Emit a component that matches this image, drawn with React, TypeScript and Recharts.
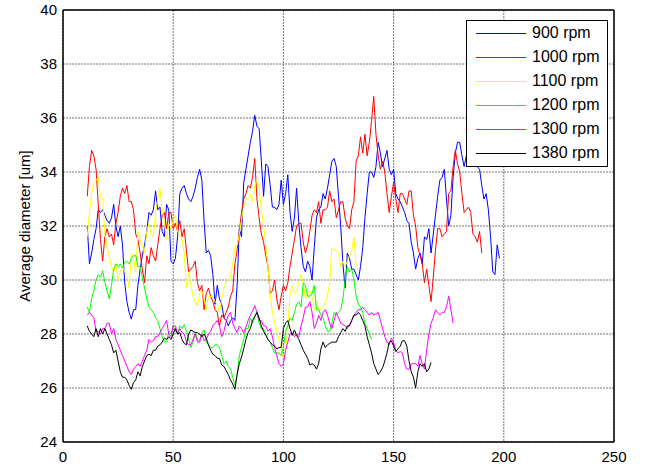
import { LineChart, Line, XAxis, YAxis, CartesianGrid } from "recharts";

// every run is sampled once per unit of x, starting here
const START_X = 11;

const X_TICKS = [0, 50, 100, 150, 200, 250];
const Y_TICKS = [24, 26, 28, 30, 32, 34, 36, 38, 40];
const Y_TITLE = "Average diameter [um]";

const rpm900 = [
  32.0, 30.6, 31.0, 31.5, 31.9, 32.6, 32.5, 32.6, 32.4, 32.2,
  32.1, 32.3, 32.8, 32.0, 31.6, 32.0, 31.3, 29.9, 29.2, 28.8,
  28.55, 28.9, 28.9, 29.8, 30.4, 30.9, 31.3, 31.8, 32.5, 32.4,
  32.6, 33.3, 32.6, 32.7, 31.8, 31.6, 32.8, 32.6, 30.7, 30.6,
  30.8, 31.6, 33.2, 33.4, 33.5, 33.2, 33.0, 32.9, 33.1, 33.4,
  33.8, 34.1, 33.7, 32.2, 31.0, 31.1, 30.9, 30.2, 29.1, 29.8,
  29.3, 29.1, 28.6, 28.5, 28.3, 28.5, 28.6, 28.5, 29.8, 31.9,
  31.6, 33.6, 34.1, 34.6, 35.1, 35.5, 36.1, 35.7, 35.6, 34.4,
  33.1, 34.3, 34.2, 33.5, 32.7, 32.7, 32.6, 32.8, 33.7, 32.8,
  33.2, 33.9, 32.5, 31.8, 32.3, 33.4, 32.1, 31.2, 30.5, 30.3,
  30.7, 30.5, 30.0, 31.2, 32.3, 32.6, 32.7, 33.2, 33.0, 33.4,
  33.9, 34.4, 34.5, 34.2, 33.1, 32.0, 30.6, 29.7, 31.0, 30.8,
  30.4, 30.4, 30.2, 30.0, 30.5, 31.2, 32.3, 33.2, 34.0, 34.0,
  33.8, 34.2, 35.1, 34.7, 34.2, 34.5, 34.8, 34.1, 33.9, 34.1,
  33.2, 33.0, 32.9, 32.7, 32.5, 32.2, 32.1, 31.4, 31.0, 30.4,
  30.8, 31.0, 30.6, 31.6, 31.5, 31.9, 31.0, 31.7, 32.4, 33.1,
  33.7, 33.8, 34.1, 33.0, 32.0, 32.4, 33.8, 34.7, 35.1, 35.1,
  34.6, 34.2, 34.6, 34.4, 34.5, 34.6, 34.2, 34.2, 34.1, 33.5,
  33.0, 33.2, 32.6, 31.6, 30.3, 30.2, 31.3, 30.8,
];

const rpm1000 = [
  33.1, 34.2, 34.8, 34.6, 34.1, 32.8, 31.5, 30.7, 31.6, 31.9,
  31.6, 31.7, 31.3, 32.1, 32.5, 33.1, 33.4, 33.2, 33.5, 32.9,
  32.9, 32.6, 31.7, 31.5, 31.0, 30.4, 29.9, 30.9, 30.6, 31.2,
  30.9, 30.7, 31.3, 31.9, 32.4, 32.5, 31.9, 32.5, 32.5, 31.9,
  32.1, 31.8, 32.2, 31.6, 31.9, 31.1, 30.3, 30.4, 30.5, 30.7,
  29.9, 29.6, 29.8, 28.9, 29.5, 29.7, 29.4, 29.2, 28.9, 28.8,
  28.3, 28.7, 28.6, 28.8, 29.0, 29.4, 29.6, 30.6, 31.1, 31.8,
  32.5, 33.0, 33.2, 33.5, 33.4, 33.8, 34.5, 33.0, 32.3, 31.7,
  31.4, 30.9, 30.5, 29.5, 29.6, 30.0, 29.3, 28.9, 29.4, 29.8,
  29.6, 29.9, 30.5, 31.0, 31.5, 32.0, 32.1, 32.1, 31.4, 31.0,
  31.3, 31.8, 32.4, 32.6, 32.5, 32.9, 32.1, 32.6, 32.6, 32.7,
  33.3, 32.9, 33.0, 32.3, 32.6, 32.9, 32.9, 32.3, 32.0, 31.9,
  32.6, 32.9, 34.4, 34.6, 35.3, 34.7, 35.4, 34.6, 35.1, 35.9,
  36.8, 35.4, 34.6, 34.1, 34.4, 34.0, 33.2, 32.5, 33.1, 33.6,
  33.0, 32.5, 33.2, 33.2, 33.0, 32.8, 33.3, 33.3, 32.4, 32.0,
  31.2, 30.9, 30.6, 29.9, 30.4, 29.8, 29.2, 30.1, 31.1, 31.9,
  31.9, 31.6, 31.7, 31.8, 33.2, 33.3, 34.2, 34.8, 34.3, 34.0,
  33.2, 32.5, 32.6, 32.7, 32.5, 31.7, 31.6, 31.4, 31.8, 31.0,
];

const rpm1100 = [
  31.6, 32.5, 33.2, 33.6, 33.7, 33.8, 33.1, 33.0, 31.7, 31.2,
  30.9, 30.5, 30.3, 30.6, 30.0, 30.3, 30.5, 30.3, 30.2, 29.7,
  31.0, 30.8, 30.3, 31.8, 31.5, 31.3, 31.0, 31.8, 32.1, 31.7,
  31.6, 32.5, 33.0, 33.4, 32.6, 32.2, 31.5, 32.1, 31.9, 32.2,
  32.4, 31.8, 31.7, 31.5, 31.0, 29.7, 30.3, 29.8, 29.4, 29.2,
  29.05, 29.5, 29.6, 29.3, 28.9, 29.4, 29.4, 29.4, 29.2, 29.1,
  28.8, 29.3, 29.7, 29.9, 30.0, 30.1, 30.6, 31.2, 31.3, 31.7,
  32.2, 32.75, 33.0, 33.0, 33.2, 32.9, 33.5, 33.7, 33.4, 32.6,
  32.0, 31.3, 30.5, 29.5, 28.8, 28.4, 28.1, 27.8, 27.4, 27.1,
  27.3, 28.2, 29.5, 29.8, 29.5, 29.6, 29.9, 30.2, 29.9, 29.3,
  29.5, 29.6, 29.4, 28.9, 29.2, 28.9, 28.9, 29.0, 29.2, 29.4,
  29.9, 31.2, 31.1, 31.1, 31.0, 30.5, 30.7, 30.5, 30.7, 30.9,
  31.1, 31.6, 30.5,
];

const rpm1200 = [
  29.0, 28.8, 29.3, 29.6, 30.0, 30.2, 30.1, 30.35, 29.9, 29.6,
  29.3, 29.8, 30.4, 30.6, 30.5, 30.6, 30.45, 30.65, 30.7, 30.6,
  30.8, 30.9, 30.9, 30.5, 30.5, 30.1, 29.7, 29.3, 29.0, 28.9,
  28.8, 28.6, 28.5, 28.2, 27.9, 27.7, 27.7, 28.1, 28.0, 28.3,
  28.1, 28.0, 28.3, 28.2, 28.35, 28.1, 27.8, 27.5, 27.7, 28.05,
  27.8, 27.75, 28.05, 28.15, 27.7, 27.6, 27.5, 27.5, 27.6, 27.6,
  27.5, 27.2, 26.9, 27.0, 26.8, 26.7, 26.4, 26.1, 26.5, 27.2,
  27.5, 27.8, 28.2, 28.2, 28.6, 28.4, 28.6, 28.8, 28.4, 28.2,
  28.2, 28.0, 27.8, 27.7, 27.5, 27.3, 27.3, 27.3, 27.2, 27.5,
  28.1, 28.3, 28.6, 28.5, 28.8, 29.1, 29.2, 29.0, 29.9, 29.8,
  29.4, 29.4, 29.5, 29.8, 28.9, 28.9, 28.7, 28.6, 28.3, 28.1,
  28.1, 28.4, 28.8, 28.7, 28.8, 28.9, 29.3, 30.0, 30.5, 30.3,
  30.4, 30.0, 29.4, 29.1, 29.0, 28.8, 28.4, 28.2, 28.0, 27.8,
];

const rpm1300 = [
  28.7, 28.8, 28.7, 28.6, 28.1, 28.1, 28.0, 28.2, 28.2, 28.4,
  28.4, 28.0, 28.2, 27.8, 27.6, 27.4, 27.2, 27.0, 26.8, 26.6,
  26.5, 26.7, 26.8, 26.9, 26.8, 27.0, 27.2, 27.4, 27.8, 27.7,
  27.75, 27.9, 27.9, 28.05, 28.2, 28.35, 28.5, 28.0, 27.9, 28.3,
  28.3, 28.0, 28.2, 28.05, 28.0, 27.7, 27.6, 27.6, 27.8, 28.0,
  27.7, 27.7, 28.0, 27.75, 27.8, 28.0, 28.1, 28.3, 28.4, 28.5,
  28.3, 27.9, 28.1, 28.45, 28.7, 28.8, 28.4, 28.2, 28.05, 28.3,
  28.2, 28.05, 28.25, 28.5, 28.7, 28.85, 29.05, 28.8, 28.5, 28.5,
  28.3, 28.3, 28.1, 28.2, 27.9, 27.5, 27.2, 26.9, 26.8, 26.9,
  27.4, 27.7, 28.0, 28.05, 27.9, 28.0, 27.9, 28.3, 28.6, 29.0,
  29.0, 29.2, 28.8, 28.2, 28.4, 28.7, 28.5, 28.8, 28.9, 28.7,
  28.4, 28.2, 28.5, 28.8, 28.6, 28.4, 28.35, 28.3, 28.2, 28.35,
  28.5, 28.7, 28.8, 28.9, 28.9, 29.0, 28.9, 28.8, 28.7, 28.8,
  28.7, 28.75, 28.8, 28.5, 28.2, 27.9, 27.7, 27.6, 27.85, 27.7,
  27.4, 27.3, 27.35, 27.3, 26.9, 26.7, 26.7, 26.9, 26.9, 26.9,
  26.8, 27.2, 26.9, 26.7, 27.4, 28.0, 28.4, 28.6, 28.9, 28.8,
  28.7, 28.8, 28.8, 29.0, 29.4, 28.9, 28.4,
];

const rpm1380 = [
  28.3, 28.1, 28.0, 27.9, 28.2, 27.9, 28.2, 28.0, 28.2, 28.0,
  27.8, 27.6, 27.3, 27.4, 27.0, 26.6, 26.4, 26.4, 26.3, 26.1,
  25.95, 26.2, 26.3, 26.6, 26.45, 26.8, 27.0, 27.2, 27.25, 27.2,
  27.4, 27.4, 27.55, 27.6, 27.7, 27.85, 27.8, 27.9, 27.8, 28.0,
  28.2, 28.0, 28.05, 27.8, 27.65, 27.6, 28.0, 28.15, 28.1, 28.05,
  28.05, 28.0, 27.9, 28.0, 27.85, 27.6, 27.4, 27.25, 27.2, 27.1,
  27.1, 26.85, 26.8, 26.65, 26.5, 26.3, 26.15, 25.95, 26.5, 26.9,
  27.15, 27.45, 27.8, 28.05, 28.2, 28.5, 28.65, 28.8, 28.6, 28.3,
  28.1, 27.95, 27.8, 27.7, 27.6, 27.55, 27.45, 27.5, 27.5, 28.2,
  28.4, 28.5, 28.2, 27.95, 28.15, 27.95, 27.8, 27.6, 27.4, 27.25,
  27.1, 26.85, 26.9, 26.85, 26.7, 26.9, 27.45, 27.7, 27.5, 27.6,
  27.65, 27.7, 27.7, 27.7, 27.9, 28.05, 28.2, 28.1, 28.3, 28.3,
  28.5, 28.7, 28.7, 28.8, 28.7, 28.5, 28.3, 27.9, 27.6, 27.3,
  26.9, 26.7, 26.5, 26.6, 26.75, 27.0, 27.3, 27.7, 27.75, 27.55,
  27.35, 27.45, 27.55, 27.75, 27.75, 27.55, 27.0, 26.6, 26.4, 26.0,
  26.6, 26.9, 26.8, 26.9, 26.6, 26.7, 26.95,
];

// plotted in this order, so the last run sits on top
const SERIES = [
  { key: "rpm900", name: "900 rpm", color: "#0000FF", values: rpm900 },
  { key: "rpm1000", name: "1000 rpm", color: "#FF0000", values: rpm1000 },
  { key: "rpm1100", name: "1100 rpm", color: "#FFFF00", values: rpm1100 },
  { key: "rpm1200", name: "1200 rpm", color: "#00FF00", values: rpm1200 },
  { key: "rpm1300", name: "1300 rpm", color: "#FF00FF", values: rpm1300 },
  { key: "rpm1380", name: "1380 rpm", color: "#000000", values: rpm1380 },
];

const maxLen = Math.max(...SERIES.map((s) => s.values.length));
const rows = Array.from({ length: maxLen }, (_, i) => {
  const row: Record<string, number> = { x: START_X + i };
  SERIES.forEach((s) => {
    if (i < s.values.length) row[s.key] = s.values[i];
  });
  return row;
});

const FONT = '"Liberation Sans", Arial, sans-serif';
const boxLine = { stroke: "#000", strokeWidth: 1.5 };

const YTitle = () => (
  <text
    x={24}
    y={226}
    transform="rotate(-90 24 226)"
    textAnchor="middle"
    dominantBaseline="central"
    fontSize={15}
    fontFamily={FONT}
    fill="#000"
  >
    {Y_TITLE}
  </text>
);

const App = () => {
  return (
    <div
      style={{
        position: "absolute",
        left: 0,
        top: 0,
        width: 645,
        height: 468,
        background: "#fff",
        fontFamily: FONT,
      }}
    >
      <LineChart
        width={645}
        height={468}
        data={rows}
        margin={{ top: 10, right: 31, bottom: 0, left: 0 }}
      >
        <CartesianGrid stroke="#767676" strokeDasharray="2 1" />

        {/* labelled axes */}
        <XAxis
          dataKey="x"
          type="number"
          domain={[0, 250]}
          ticks={X_TICKS}
          interval={0}
          height={26}
          tickLine={false}
          tickSize={0}
          tickMargin={9}
          axisLine={boxLine}
          tick={{ fill: "#000", fontSize: 15, fontFamily: FONT }}
        />
        <YAxis
          type="number"
          domain={[24, 40]}
          ticks={Y_TICKS}
          interval={0}
          width={63}
          tickLine={false}
          tickSize={0}
          tickMargin={6}
          axisLine={boxLine}
          tick={{ fill: "#000", fontSize: 15, fontFamily: FONT }}
          label={<YTitle />}
        />

        {/* box edges with inward tick marks */}
        <XAxis
          xAxisId="bottomTicks"
          dataKey="x"
          type="number"
          domain={[0, 250]}
          ticks={X_TICKS}
          interval={0}
          mirror
          tick={false}
          tickSize={5}
          axisLine={false}
          tickLine={{ stroke: "#000" }}
        />
        <XAxis
          xAxisId="top"
          orientation="top"
          dataKey="x"
          type="number"
          domain={[0, 250]}
          ticks={X_TICKS}
          interval={0}
          mirror
          tick={false}
          tickSize={5}
          axisLine={boxLine}
          tickLine={{ stroke: "#000" }}
        />
        <YAxis
          yAxisId="leftTicks"
          type="number"
          domain={[24, 40]}
          ticks={Y_TICKS}
          interval={0}
          mirror
          tick={false}
          tickSize={5}
          axisLine={false}
          tickLine={{ stroke: "#000" }}
        />
        <YAxis
          yAxisId="right"
          orientation="right"
          type="number"
          domain={[24, 40]}
          ticks={Y_TICKS}
          interval={0}
          mirror
          tick={false}
          tickSize={5}
          axisLine={boxLine}
          tickLine={{ stroke: "#000" }}
        />

        {SERIES.map((s) => (
          <Line
            key={s.key}
            dataKey={s.key}
            name={s.name}
            type="linear"
            stroke={s.color}
            strokeWidth={1}
            dot={false}
            activeDot={false}
            isAnimationActive={false}
          />
        ))}
      </LineChart>

      {/* legend box in the upper right corner */}
      <div
        style={{
          position: "absolute",
          left: 466,
          top: 20,
          width: 140,
          height: 145,
          border: "1px solid #000",
          background: "#fff",
        }}
      >
        {SERIES.map((s, i) => (
          <div key={s.key}>
            <div
              style={{
                position: "absolute",
                left: 9,
                top: 12 + i * 24,
                width: 50,
                height: 1,
                background: s.color,
              }}
            />
            <div
              style={{
                position: "absolute",
                left: 65,
                top: 2 + i * 24,
                height: 20,
                lineHeight: "20px",
                fontSize: 16,
                color: "#000",
                whiteSpace: "nowrap",
              }}
            >
              {s.name}
            </div>
          </div>
        ))}
      </div>
    </div>
  );
};

export default App;
